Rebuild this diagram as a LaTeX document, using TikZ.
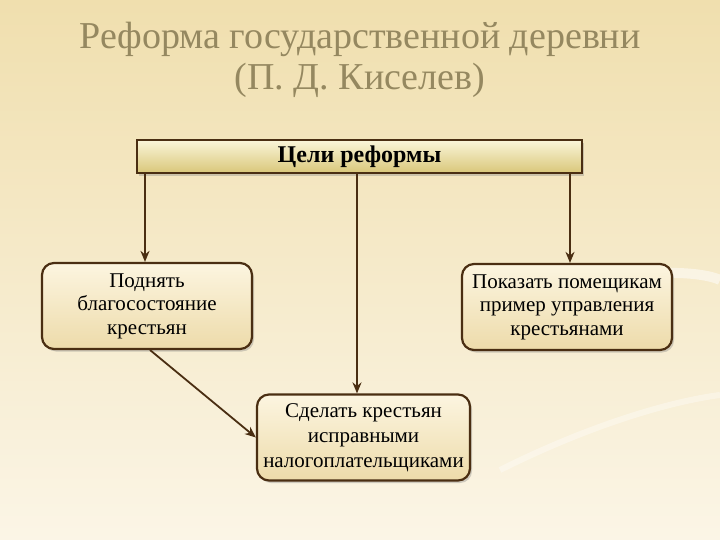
\documentclass[tikz,border=0pt]{standalone}
\usepackage{fontspec}
\setmainfont{Liberation Serif}
\usetikzlibrary{arrows.meta,shadows}
\definecolor{bgtop}{HTML}{F0DFAE}
\definecolor{bgbot}{HTML}{FBF5E6}
\definecolor{titlec}{HTML}{958860}
\definecolor{edge}{HTML}{4A2E12}
\definecolor{boxtop}{HTML}{FCF5E0}
\definecolor{boxbot}{HTML}{EDDBAA}
\definecolor{headtop}{HTML}{FAF5D8}
\definecolor{headbot}{HTML}{D8C678}
\tikzset{
  goal/.style={draw=edge, line width=2.2pt, rounded corners=12pt, top color=boxtop, bottom color=boxbot,
    minimum width=210pt, minimum height=86pt, align=center, font=\fontsize{21}{23.5}\selectfont,
    drop shadow={shadow xshift=2pt, shadow yshift=-2.5pt, opacity=0.35}},
  head/.style={draw=edge, line width=2pt, top color=headtop, bottom color=headbot,
    minimum width=445pt, minimum height=33pt, font=\bfseries\fontsize{24}{26}\selectfont,
    drop shadow={shadow xshift=2pt, shadow yshift=-2.5pt, opacity=0.35}},
  conn/.style={draw=edge, line width=1.8pt, -{Stealth[length=11pt,width=9pt]}}
}
\begin{document}
\begin{tikzpicture}[x=1pt,y=-1pt]
\shade[top color=bgtop, bottom color=bgbot] (0,0) rectangle (720,540);
\useasboundingbox (0,0) rectangle (720,540);
% faint decorative swoosh
\draw[white, opacity=0.5, line width=10pt] (480,330) .. controls (600,260) and (700,270) .. (720,280);
\draw[white, opacity=0.35, line width=6pt] (500,470) .. controls (600,420) and (680,400) .. (720,395);
\node[text=titlec, font=\fontsize{38}{41}\selectfont, align=center] (title) at (360,60)
  {Реформа государственной деревни\\(П. Д. Киселев)};
\node[head] (h) at (359.5,157) {Цели реформы};
\node[goal] (l) at (147,306) {Поднять\\благосостояние\\крестьян};
\node[goal] (r) at (567,307) {Показать помещикам\\пример управления\\крестьянами};
\node[goal, minimum width=213pt, font=\fontsize{21}{25}\selectfont] (b) at (363.5,437.5) {Сделать крестьян\\исправными\\налогоплательщиками};
\coordinate (hl) at (145,174);
\coordinate (hm) at (357,174);
\coordinate (hr) at (570,174);
\draw[conn] (hl) -- (hl |- l.north);
\draw[conn] (hm) -- (hm |- b.north);
\draw[conn] (hr) -- (hr |- r.north);
\draw[conn] (150,350) -- (b.west);
\end{tikzpicture}
\end{document}
